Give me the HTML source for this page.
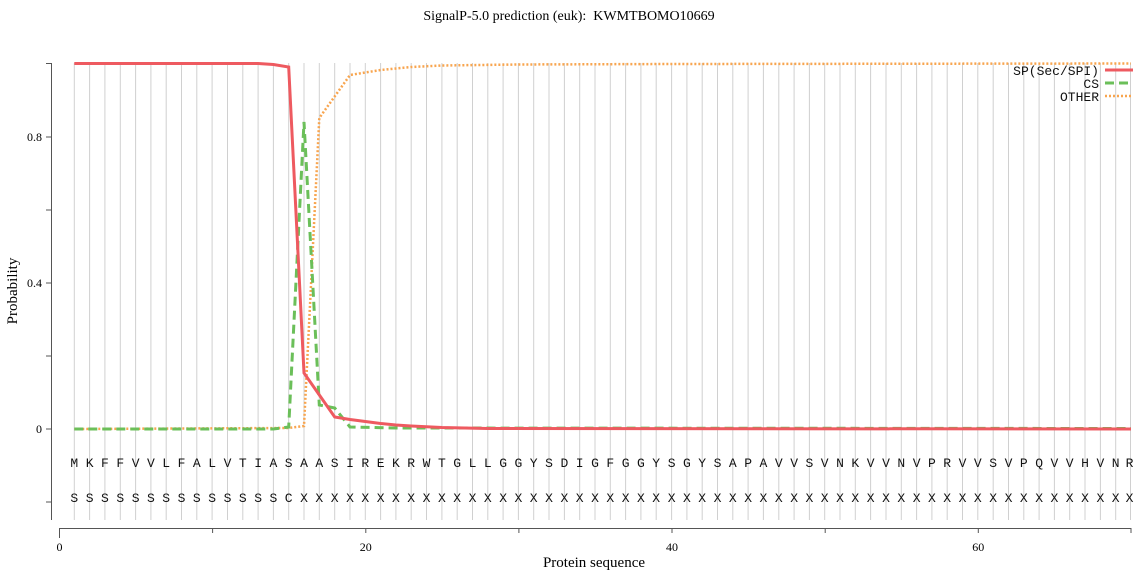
<!DOCTYPE html>
<html><head><style>body{margin:0;background:#fff}svg{display:block}</style></head><body>
<svg width="1139" height="572" xmlns="http://www.w3.org/2000/svg">
<path stroke="#d0d0d0" stroke-width="1" fill="none" d="M74.3 63V520M89.6 63V520M104.9 63V520M120.3 63V520M135.6 63V520M150.9 63V520M166.2 63V520M181.5 63V520M196.8 63V520M212.1 63V520M227.5 63V520M242.8 63V520M258.1 63V520M273.4 63V520M288.7 63V520M304.0 63V520M319.3 63V520M334.7 63V520M350.0 63V520M365.3 63V520M380.6 63V520M395.9 63V520M411.2 63V520M426.5 63V520M441.9 63V520M457.2 63V520M472.5 63V520M487.8 63V520M503.1 63V520M518.4 63V520M533.7 63V520M549.0 63V520M564.4 63V520M579.7 63V520M595.0 63V520M610.3 63V520M625.6 63V520M640.9 63V520M656.2 63V520M671.6 63V520M686.9 63V520M702.2 63V520M717.5 63V520M732.8 63V520M748.1 63V520M763.4 63V520M778.8 63V520M794.1 63V520M809.4 63V520M824.7 63V520M840.0 63V520M855.3 63V520M870.6 63V520M886.0 63V520M901.3 63V520M916.6 63V520M931.9 63V520M947.2 63V520M962.5 63V520M977.8 63V520M993.2 63V520M1008.5 63V520M1023.8 63V520M1039.1 63V520M1054.4 63V520M1069.7 63V520M1085.0 63V520M1100.4 63V520M1115.7 63V520M1130.5 63V520"/>
<text x="569" y="20" font-family="Liberation Serif, serif" font-size="14" text-anchor="middle">SignalP-5.0 prediction (euk):&#160; KWMTBOMO10669</text>
<g stroke="#555" fill="none" stroke-width="1">
<path d="M51.5 63V520M46 63.5H51.5M46 137H51.5M46 210H51.5M46 283H51.5M46 356H51.5M46 429H51.5M46 502H51.5"/>
<path d="M59 528.5H1131M59.5 528V538M212.6 528V533M365.8 528V533M518.9 528V533M672 528V533M825.2 528V533M978.3 528V533M1131 528V533"/>
</g>
<g font-family="Liberation Serif, serif" font-size="12" fill="#000">
<text x="42" y="433" text-anchor="end">0</text>
<text x="42" y="287" text-anchor="end">0.4</text>
<text x="42" y="141" text-anchor="end">0.8</text>
<text x="59.5" y="551" text-anchor="middle">0</text>
<text x="365.8" y="551" text-anchor="middle">20</text>
<text x="672" y="551" text-anchor="middle">40</text>
<text x="978.3" y="551" text-anchor="middle">60</text>
</g>
<text x="594" y="567" font-family="Liberation Serif, serif" font-size="15" text-anchor="middle">Protein sequence</text>
<text transform="translate(17,291) rotate(-90)" font-family="Liberation Serif, serif" font-size="15" text-anchor="middle">Probability</text>
<g font-family="Liberation Mono, monospace" font-size="13" text-anchor="middle" fill="#111">
<text y="467" x="74.3 89.6 104.9 120.3 135.6 150.9 166.2 181.5 196.8 212.1 227.5 242.8 258.1 273.4 288.7 304.0 319.3 334.7 350.0 365.3 380.6 395.9 411.2 426.5 441.9 457.2 472.5 487.8 503.1 518.4 533.7 549.0 564.4 579.7 595.0 610.3 625.6 640.9 656.2 671.6 686.9 702.2 717.5 732.8 748.1 763.4 778.8 794.1 809.4 824.7 840.0 855.3 870.6 886.0 901.3 916.6 931.9 947.2 962.5 977.8 993.2 1008.5 1023.8 1039.1 1054.4 1069.7 1085.0 1100.4 1115.7 1129.5">MKFFVVLFALVTIASAASIREKRWTGLLGGYSDIGFGGYSGYSAPAVVSVNKVVNVPRVVSVPQVVHVNR</text>
<text y="502" x="74.3 89.6 104.9 120.3 135.6 150.9 166.2 181.5 196.8 212.1 227.5 242.8 258.1 273.4 288.7 304.0 319.3 334.7 350.0 365.3 380.6 395.9 411.2 426.5 441.9 457.2 472.5 487.8 503.1 518.4 533.7 549.0 564.4 579.7 595.0 610.3 625.6 640.9 656.2 671.6 686.9 702.2 717.5 732.8 748.1 763.4 778.8 794.1 809.4 824.7 840.0 855.3 870.6 886.0 901.3 916.6 931.9 947.2 962.5 977.8 993.2 1008.5 1023.8 1039.1 1054.4 1069.7 1085.0 1100.4 1115.7 1129.5">SSSSSSSSSSSSSSCXXXXXXXXXXXXXXXXXXXXXXXXXXXXXXXXXXXXXXXXXXXXXXXXXXXXXXX</text>
</g>
<g fill="none" stroke-width="3">
<path stroke="#f8a54f" stroke-width="2.5" stroke-dasharray="2 2" d="M74.3 429L288.7 428L304 426L319.3 118L350 75L380.6 70L411.2 67L441.9 65.5L518 64.5L671 64L1131 63.5"/>
<path stroke="#6bbf59" stroke-dasharray="9 5" d="M74.3 429L273.4 429L288.7 427L304 122L319.3 405L334.7 408L350 427L395.9 428L1131 428.5"/>
<path stroke="#ee5a60" d="M74.3 63.5L258.1 63.5L273.4 64.5L288.7 67L304 373L334.7 417L350 419.5L365.3 421.5L380.6 423.5L395.9 425L411.2 426L441.9 427.5L487.8 428.5L1131 429"/>
<path stroke="#ee5a60" d="M1105 70H1133"/>
<path stroke="#6bbf59" stroke-dasharray="9 5" d="M1105 83H1133"/>
<path stroke="#f8a54f" stroke-width="2.5" stroke-dasharray="2 2" d="M1105 96H1133"/>
</g>
<g font-family="Liberation Mono, monospace" font-size="13" text-anchor="end" fill="#111">
<text x="1099" y="75">SP(Sec/SPI)</text>
<text x="1099" y="88">CS</text>
<text x="1099" y="101">OTHER</text>
</g>
</svg>
</body></html>
